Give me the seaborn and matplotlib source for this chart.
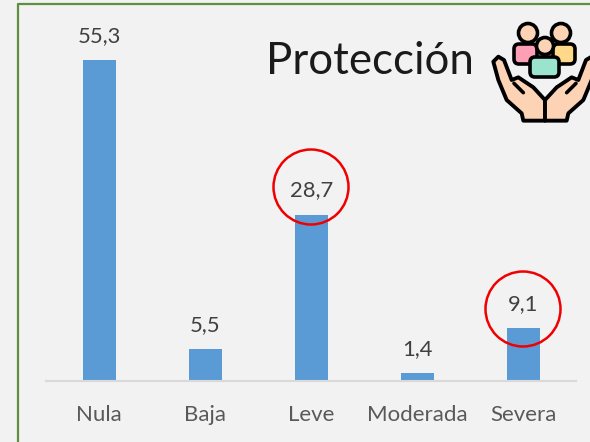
import matplotlib
matplotlib.use("Agg")
import matplotlib.pyplot as plt
from matplotlib.patches import Circle, FancyBboxPatch, Polygon
import pandas as pd
import seaborn as sns

categories = ["Nula", "Baja", "Leve", "Moderada", "Severa"]
values = [55.3, 5.5, 28.7, 1.4, 9.1]
value_labels = ["55,3", "5,5", "28,7", "1,4", "9,1"]
highlighted = ["Leve", "Severa"]
title = "Protección"

sns.set_theme(style="white")
plt.rcParams["font.family"] = ["Lato", "Open Sans", "DejaVu Sans"]
W, H = 590, 442
BG = "#f2f2f2"
fig = plt.figure(figsize=(W / 100, H / 100), dpi=100, facecolor=BG)
ax = fig.add_axes([46.3 / W, (H - 381) / H, 530 / W, 381 / H], facecolor="none")
df = pd.DataFrame({"cat": categories, "val": values})
sns.barplot(data=df, x="cat", y="val", color="#5b9bd5", saturation=1, width=0.316, ax=ax,
            order=categories, linewidth=0, edgecolor="none")
ax.set_xlim(-0.5, 4.5)
ax.set_ylim(0, 381 / 5.8)
ax.set_xlabel("")
ax.set_ylabel("")
ax.set_yticks([])
for s in ["top", "left", "right"]:
    ax.spines[s].set_visible(False)
ax.spines["bottom"].set_color("#d9d9d9")
ax.spines["bottom"].set_linewidth(1.5)
ax.tick_params(axis="x", length=0, pad=17, labelsize=16, labelcolor="#595959")
for i, (v, t) in enumerate(zip(values, value_labels)):
    ax.annotate(t, (i, v), xytext=(0, 14), textcoords="offset pixels", ha="center",
                va="bottom", fontsize=15.8, color="#404040")

ov = fig.add_axes([0, 0, 1, 1], facecolor="none")
ov.set_xlim(0, W)
ov.set_ylim(H, 0)
ov.axis("off")
ov.plot([17.5, 17.5, 590], [442, 3.5, 3.5], color="#5f8f3e", lw=1.6, solid_capstyle="butt")
ov.text(370, 62, title, fontsize=31.5, color="#1a1a1a", ha="center", va="center")

# highlight rings
for cat, cy in zip(highlighted, [187, 309]):
    cx = 46 + 106 * (categories.index(cat) + 0.5)
    ov.add_patch(Circle((cx, cy), 37.5, fill=False, ec="#f00000", lw=1.8, zorder=5))

# icon
def z(x, y):
    return (440 + x / 3, y / 3)

def hand(pts):
    ov.add_patch(Polygon([z(*p) for p in pts], closed=True, fc="#fdd3b5", ec="black", lw=2.8, joinstyle="round"))

left = [(160, 185), (175, 170), (192, 180), (215, 240), (235, 232), (280, 262), (315, 300),
        (315, 362), (250, 362), (245, 340), (200, 300), (175, 240)]
hand(left)
hand([(630 - x, y) for x, y in left])
for x0, x1 in [(222, 250), (408, 380)]:
    ov.plot(*zip(z(x0, 250), z(x1, 278)), color="black", lw=2.6, solid_capstyle="round")

def body(x0, y0, x1, y1, c):
    ov.add_patch(FancyBboxPatch((x0, y0), x1 - x0, y1 - y0, boxstyle="round,pad=0,rounding_size=5",
                                fc=c, ec="black", lw=2.6))

body(514, 44, 537, 64, "#ff9fb5")
body(553, 44, 575, 64, "#ffd98a")
ov.add_patch(Circle((528, 33), 9.5, fc="#fdd3b5", ec="black", lw=2.6))
ov.add_patch(Circle((561, 33), 9.5, fc="#fdd3b5", ec="black", lw=2.6))
body(530, 57, 559, 77, "#9be3cd")
ov.add_patch(Circle((545, 46), 8.5, fc="#fdd3b5", ec="black", lw=2.6))

fig.savefig("out.png", dpi=100, facecolor=BG)
